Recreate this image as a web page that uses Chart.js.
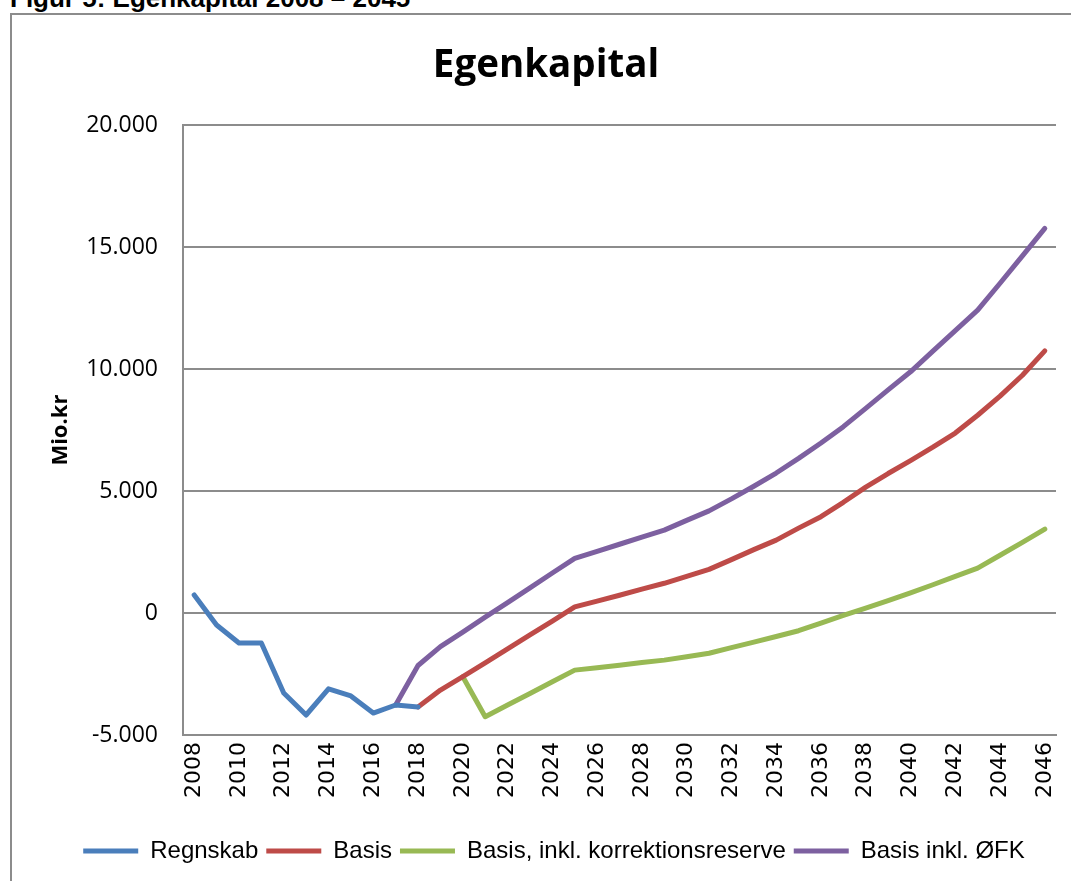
<!DOCTYPE html>
<html>
<head>
<meta charset="utf-8">
<script src="https://cdn.jsdelivr.net/npm/chart.js@4.4.1/dist/chart.umd.min.js"></script>
<style>
  html, body { margin: 0; padding: 0; background: #fff; width: 1071px; height: 881px; overflow: hidden; }
  #caption { position: absolute; left: 10px; top: -15px; font: bold 26px 'Liberation Sans', Arial, sans-serif; line-height: 26px; white-space: nowrap; color: #000; }
  #frame { position: absolute; left: 10px; top: 13px; width: 1100px; height: 900px; border: 2px solid #8c8c8c; }
  #chart { position: absolute; left: 12px; top: 15px; }
</style>
</head>
<body>
<div id="caption">Figur 5: Egenkapital 2008 – 2045</div>
<div id="frame"></div>
<canvas id="chart" width="1074" height="866"></canvas>
<script>
const years = ['2008', '2009', '2010', '2011', '2012', '2013', '2014', '2015', '2016', '2017',
  '2018', '2019', '2020', '2021', '2022', '2023', '2024', '2025', '2026', '2027',
  '2028', '2029', '2030', '2031', '2032', '2033', '2034', '2035', '2036', '2037',
  '2038', '2039', '2040', '2041', '2042', '2043', '2044', '2045', '2046'];

// Mio. kr, one value per year, null where the series has no value
const regnskab = [740, -490, -1230, -1230, -3280, -4180, -3110, -3400, -4100, -3770,
  -3850, null, null, null, null, null, null, null, null, null,
  null, null, null, null, null, null, null, null, null, null,
  null, null, null, null, null, null, null, null, null];

const basis = [null, null, null, null, null, null, null, null, null, null,
  -3850, -3160, -2610, -2040, -1470, -900, -330, 250, 490, 730,
  980, 1220, 1500, 1790, 2190, 2600, 2990, 3480, 3950, 4540,
  5160, 5720, 6250, 6800, 7380, 8110, 8890, 9750, 10750];

const korrektion = [null, null, null, null, null, null, null, null, null, null,
  null, null, -2610, -4250, -3770, -3300, -2820, -2340, -2240, -2140,
  -2030, -1930, -1790, -1650, -1420, -1190, -960, -725, -410, -100,
  200, 510, 830, 1160, 1500, 1840, 2370, 2900, 3440];

const ofk = [null, null, null, null, null, null, null, null, null, -3770,
  -2150, -1380, -780, -170, 430, 1030, 1640, 2240, 2530, 2820,
  3110, 3400, 3800, 4190, 4680, 5200, 5740, 6340, 6970, 7640,
  8390, 9150, 9890, 10740, 11580, 12420, 13520, 14640, 15770];

const seriesNames = ['Regnskab', 'Basis', 'Basis, inkl. korrektionsreserve', 'Basis inkl. ØFK'];
const seriesColors = ['#4a7ebb', '#be4b48', '#98b954', '#7d60a0'];

const fmt = (v) => (v < 0 ? '-' : '') + String(Math.abs(v)).replace(/\B(?=(\d{3})+(?!\d))/g, '.');

const mk = (i, data) => ({
  label: seriesNames[i],
  data,
  borderColor: seriesColors[i],
  backgroundColor: seriesColors[i],
  borderWidth: 5,
  borderCapStyle: 'round',
  borderJoinStyle: 'round',
  pointRadius: 0,
  tension: 0
});

// nudge legend and title a little to the right so they sit like the original
const blockShift = {
  id: 'blockShift',
  afterLayout(chart) {
    chart.legend.left += 20;
    chart.legend.right += 20;
    chart.titleBlock.left += 12;
    chart.titleBlock.right += 12;
  }
};

const gridGray = '#8c8c8c';

new Chart(document.getElementById('chart'), {
  type: 'line',
  data: {
    labels: years,
    datasets: [mk(0, regnskab), mk(1, basis), mk(2, korrektion), mk(3, ofk)]
  },
  options: {
    responsive: false,
    animation: false,
    layout: { padding: { left: 0, right: 30, top: 0, bottom: 8 } },
    plugins: {
      title: {
        display: true,
        text: 'Egenkapital',
        color: '#000',
        font: { family: "'Open Sans'", size: 38.5, weight: 'bold' },
        padding: { top: 28, bottom: 36 }
      },
      legend: {
        position: 'bottom',
        labels: {
          color: '#000',
          font: { family: "'Liberation Sans'", size: 24 },
          usePointStyle: true,
          pointStyle: 'line',
          pointStyleWidth: 55,
          padding: 8
        }
      },
      tooltip: { enabled: false }
    },
    scales: {
      x: {
        offset: true,
        grid: { display: false, drawTicks: false },
        border: { color: gridGray, width: 2 },
        ticks: {
          autoSkip: false,
          maxRotation: 90,
          minRotation: 90,
          padding: 7,
          color: '#000',
          font: { family: "'DejaVu Sans'", size: 22 },
          callback: function (v, i) { return i % 2 === 0 ? this.getLabelForValue(v) : ''; }
        },
        afterFit: (s) => { s.height = 96; }
      },
      y: {
        min: -5000,
        max: 20000,
        grid: { color: gridGray, lineWidth: 2, drawTicks: false },
        border: { color: gridGray, width: 2 },
        ticks: {
          stepSize: 5000,
          padding: 25,
          color: '#000',
          font: { family: "'Open Sans'", size: 23 },
          callback: (v) => fmt(v)
        },
        title: {
          display: true,
          text: 'Mio.kr',
          color: '#000',
          font: { family: "'Open Sans'", size: 22, weight: 'bold' },
          padding: { top: 36 }
        },
        afterFit: (s) => { s.width = 171; }
      }
    }
  },
  plugins: [blockShift]
});
</script>
</body>
</html>
